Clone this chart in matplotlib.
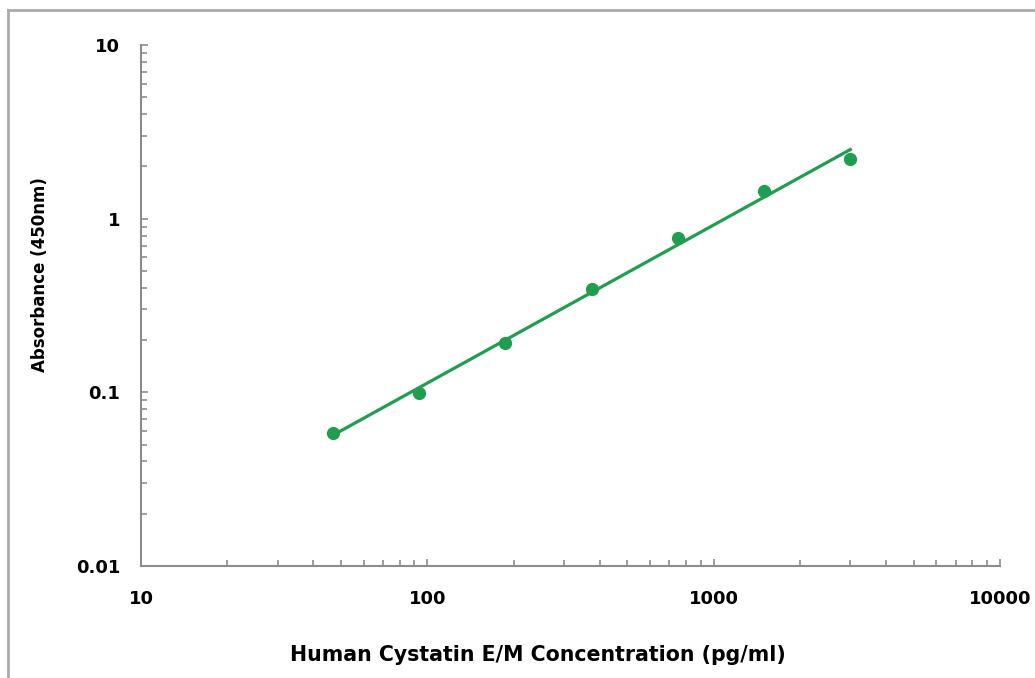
import numpy as np
import matplotlib.pyplot as plt
from matplotlib.lines import Line2D
from matplotlib.ticker import LogLocator, FixedLocator, FixedFormatter, NullFormatter

concentration = [46.875, 93.75, 187.5, 375, 750, 1500, 3000]
absorbance = [0.058, 0.099, 0.192, 0.395, 0.775, 1.44, 2.21]

x_ticks = [10, 100, 1000, 10000]
x_labels = ["10", "100", "1000", "10000"]
y_ticks = [0.01, 0.1, 1, 10]
y_labels = ["0.01", "0.1", "1", "10"]

vert = '#1f9e4f'
gris = '#8c8c8c'

plt.rcParams['font.family'] = ['DejaVu Sans']
plt.rcParams['font.weight'] = 'bold'

# Ajustement puissance (droite en log-log)
pente, ordo = np.polyfit(np.log10(concentration), np.log10(absorbance), 1)
xf = np.array([concentration[0], concentration[-1]])
yf = 10 ** (ordo + pente * np.log10(xf))

fig = plt.figure(figsize=(10.35, 6.78), dpi=100)
ax = fig.add_axes([0.1362, 0.1652, 0.83, 0.7684])

ax.plot(xf, yf, '-', color=vert, lw=2.3)
ax.plot(concentration, absorbance, 'o', color=vert, ms=8.5)

ax.set_xscale('log')
ax.set_yscale('log')
ax.set_xlim(10, 10000)
ax.set_ylim(0.01, 10)

ax.xaxis.set_major_locator(FixedLocator(x_ticks))
ax.xaxis.set_major_formatter(FixedFormatter(x_labels))
ax.yaxis.set_major_locator(FixedLocator(y_ticks))
ax.yaxis.set_major_formatter(FixedFormatter(y_labels))
ax.xaxis.set_minor_locator(LogLocator(base=10, subs=np.arange(2, 10)))
ax.yaxis.set_minor_locator(LogLocator(base=10, subs=np.arange(2, 10)))
ax.xaxis.set_minor_formatter(NullFormatter())
ax.yaxis.set_minor_formatter(NullFormatter())

for s in ['top', 'right']:
    ax.spines[s].set_visible(False)
for s in ['left', 'bottom']:
    ax.spines[s].set_color(gris)
    ax.spines[s].set_linewidth(1.5)

ax.tick_params(which='both', direction='in', color=gris, width=1.2, labelsize=13)
ax.tick_params(which='major', length=5)
ax.tick_params(which='minor', length=4)
ax.tick_params(axis='x', pad=17)
ax.tick_params(axis='y', pad=15)

# titres des axes (décalés comme sur l'original)
fig.text(538/1035, 1 - 655/678, "Human Cystatin E/M Concentration (pg/ml)",
         ha='center', va='center', fontsize=14.8, fontweight='bold')
fig.text(40/1035, 1 - 275/678, "Absorbance (450nm)", rotation=90,
         ha='center', va='center', fontsize=12, fontweight='bold')

# cadre gris autour de la figure
fig.add_artist(Line2D([8/1035, 8/1035], [0, 1 - 10/678], transform=fig.transFigure, color='#aaaaaa', lw=2))
fig.add_artist(Line2D([8/1035, 1], [1 - 10/678, 1 - 10/678], transform=fig.transFigure, color='#aaaaaa', lw=2))

fig.savefig('out.png', dpi=100)
